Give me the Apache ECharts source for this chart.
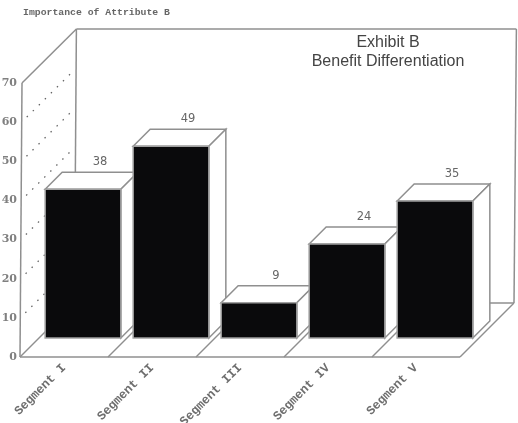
<!DOCTYPE html>
<html>
<head>
<meta charset="utf-8">
<style>html,body{margin:0;padding:0;background:#fff}#chart{width:518px;height:423px}</style>
<script src="https://cdn.jsdelivr.net/npm/echarts@6/dist/echarts.min.js"></script>
</head>
<body>
<div id="chart"></div>
<script>
// Attribute importance per segment
const categories = ['Segment I', 'Segment II', 'Segment III', 'Segment IV', 'Segment V'];
const importance = [38, 49, 9, 24, 35];
const gridValues = [10, 20, 30, 40, 50, 60];

const LINE = '#8f8f8f';
const INK = '#0a0a0c';
const ROOM_DEPTH = 54;   // receding offset of the chart room, px
const BAR_INSET = 19;    // bars stand this far back from the front edge, px
const BAR_DEPTH = 17;    // receding offset of each block, px
const BAR_RATIO = 0.86;  // block width as a share of the category band

const chart = echarts.init(document.getElementById('chart'));

function segment(a, b, style) {
  return {
    type: 'line',
    shape: { x1: a[0], y1: a[1], x2: b[0], y2: b[1] },
    style: Object.assign({ stroke: LINE, lineWidth: 1.5, fill: null }, style || {})
  };
}

// The plotted room leans very slightly from bottom to top
function lean(p, size) {
  return [p[0] + 2 * (size.floorY - p[1]) / size.h, p[1]];
}

function renderRoom(params, api) {
  const o = api.coord([0, 0]);
  const band = api.size([1, 0])[0];
  const left = o[0] - band / 2;
  const right = left + band * categories.length;
  const floorY = o[1];
  const topY = api.coord([0, 70])[1];
  const size = { floorY: floorY, h: floorY - topY };
  const d = ROOM_DEPTH;
  const L = (x, y) => lean([x, y], size);
  const items = [
    segment(L(left, floorY), L(left, topY)),
    segment(L(left, topY), L(left + d, topY - d)),
    segment(L(left + d, topY - d), L(left + d, floorY - d)),
    segment(L(left + d, topY - d), L(right + d, topY - d)),
    segment(L(right + d, topY - d), [right + d, floorY - d]),
    segment([left + d, floorY - d], [right + d, floorY - d]),
    segment([right, floorY], [right + d, floorY - d]),
    segment([left, floorY], [right, floorY])
  ];
  gridValues.forEach(v => {
    const y = api.coord([0, v])[1];
    items.push(segment(L(left + 5, y - 5), L(left + d - 4, y - d + 4), {
      lineDash: [1.5, 7], lineWidth: 1.3, stroke: '#666'
    }));
  });
  for (let i = 0; i < categories.length; i++) {
    const x = left + band * i;
    items.push(segment([x, floorY], [x + d, floorY - d]));
  }
  return { type: 'group', children: items };
}

function renderBlock(params, api) {
  const idx = api.value(0);
  const val = api.value(1);
  const base = api.coord([idx, 0]);
  const top = api.coord([idx, val]);
  const band = api.size([1, 0])[0];
  const w = band * BAR_RATIO;
  const x0 = base[0] - w / 2 + BAR_INSET;
  const x1 = x0 + w;
  const yB = base[1] - BAR_INSET;
  const yT = top[1] - BAR_INSET;
  const dp = BAR_DEPTH;
  const faceStyle = { fill: '#fff', stroke: LINE, lineWidth: 1.5 };
  return {
    type: 'group',
    children: [
      { type: 'polygon', shape: { points: [[x0, yT], [x1, yT], [x1 + dp, yT - dp], [x0 + dp, yT - dp]] }, style: faceStyle },
      { type: 'polygon', shape: { points: [[x1, yT], [x1 + dp, yT - dp], [x1 + dp, yB - dp], [x1, yB]] }, style: faceStyle },
      { type: 'rect', shape: { x: x0, y: yT, width: w, height: yB - yT }, style: { fill: INK, stroke: '#a0a0a0', lineWidth: 1.5 } },
      { type: 'text', x: (x0 + x1) / 2 + dp, y: yT - dp - 10, style: {
        text: String(val), fill: '#666', font: '11.5px "DejaVu Sans"', textAlign: 'center', textVerticalAlign: 'middle'
      } }
    ]
  };
}

chart.setOption({
  animation: false,
  backgroundColor: '#fff',
  title: [
    { text: 'Importance of Attribute B', left: 18, top: 3,
      textStyle: { fontFamily: 'Liberation Mono', fontSize: 9.8, fontWeight: 'bold', color: '#666' } },
    { text: 'Exhibit B\nBenefit Differentiation', left: 383, top: 28, textAlign: 'center',
      textStyle: { fontFamily: 'Liberation Sans', fontSize: 16, fontWeight: 'normal', color: '#444', lineHeight: 19 } }
  ],
  grid: { left: 20, top: 83, width: 440, height: 274, containLabel: false, outerBoundsMode: 'none' },
  xAxis: {
    type: 'category',
    data: categories,
    axisLine: { show: false },
    axisTick: { show: false },
    axisLabel: { rotate: 45, margin: 9, interval: 0, fontFamily: 'Liberation Mono', fontSize: 12.4, fontWeight: 'bold', color: '#6e6e6e' }
  },
  yAxis: {
    type: 'value',
    min: 0, max: 70, interval: 10,
    axisLine: { show: false },
    axisTick: { show: false },
    splitLine: { show: false },
    axisLabel: { margin: 3, fontFamily: 'DejaVu Serif', fontSize: 11, fontWeight: 'bold', color: '#808080' }
  },
  series: [
    { type: 'custom', coordinateSystem: 'cartesian2d', clip: false, silent: true, z: 1,
      renderItem: renderRoom, data: [[0, 0]], encode: { x: 0, y: 1 } },
    { type: 'custom', coordinateSystem: 'cartesian2d', clip: false, silent: true, z: 2,
      renderItem: renderBlock, data: importance.map((v, i) => [i, v]), encode: { x: 0, y: 1 } }
  ]
});
</script>
</body>
</html>
